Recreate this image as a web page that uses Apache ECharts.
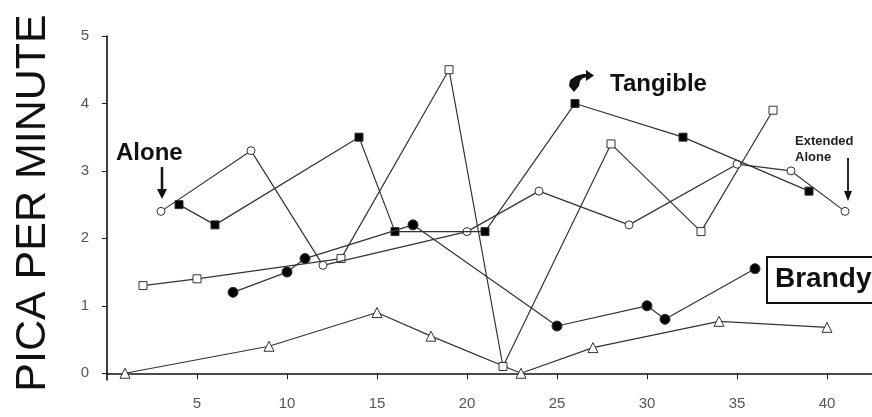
<!DOCTYPE html>
<html><head><meta charset="utf-8">
<script src="https://cdn.jsdelivr.net/npm/echarts@6/dist/echarts.min.js"></script>
<style>html,body{margin:0;padding:0;background:#fff}#c{width:872px;height:417px}</style>
</head><body><div id="c"></div>
<script>
// Tick labels
const xTicks = [5, 10, 15, 20, 25, 30, 35, 40];
const yTicks = [0, 1, 2, 3, 4, 5];

// Alone (open circles)
const aloneX = [3, 8, 12, 20, 24, 29, 35, 38, 41];
const aloneY = [2.4, 3.3, 1.6, 2.1, 2.7, 2.2, 3.1, 3.0, 2.4];
// Tangible (filled squares)
const tangibleX = [4, 6, 14, 16, 21, 26, 32, 39];
const tangibleY = [2.5, 2.2, 3.5, 2.1, 2.1, 4.0, 3.5, 2.7];
// Open squares
const openSqX = [2, 5, 13, 19, 22, 28, 33, 37];
const openSqY = [1.3, 1.4, 1.7, 4.5, 0.1, 3.4, 2.1, 3.9];
// Brandy (filled circles)
const brandyX = [7, 10, 11, 17, 25, 30, 31, 36];
const brandyY = [1.2, 1.5, 1.7, 2.2, 0.7, 1.0, 0.8, 1.55];
// Open triangles
const triX = [1, 9, 15, 18, 23, 27, 34, 40];
const triY = [0, 0.4, 0.9, 0.55, 0, 0.38, 0.77, 0.68];

const FONT = 'Liberation Sans, Arial, Helvetica, sans-serif';
function pts(xs, ys) { return xs.map((x, i) => [x, ys[i]]); }
function mk(name, xs, ys, symbol, size, filled, z) {
  return {
    name, type: 'line', data: pts(xs, ys), symbol, symbolSize: size,
    showSymbol: true, z: z, animation: false,
    lineStyle: { color: '#333', width: 1.2 },
    itemStyle: { color: filled ? '#000' : '#fff', borderColor: '#333', borderWidth: 1 },
    emphasis: { disabled: true }
  };
}

const chart = echarts.init(document.getElementById('c'));
chart.setOption({
  animation: false,
  backgroundColor: '#fff',
  grid: { left: 107, right: 0, top: 36, bottom: 37 },
  xAxis: {
    type: 'value', min: 0, max: 42.5,
    axisLine: { show: true, lineStyle: { color: '#111', width: 1.6 } },
    axisTick: { show: true, customValues: xTicks, length: 6, lineStyle: { color: '#222' } },
    axisLabel: { customValues: xTicks, fontSize: 15, color: '#555', fontFamily: FONT, margin: 16 },
    splitLine: { show: false }
  },
  yAxis: {
    type: 'value', min: -0.1, max: 5,
    axisLine: { show: true, lineStyle: { color: '#111', width: 1.6 } },
    axisTick: { show: true, customValues: yTicks, length: 5, lineStyle: { color: '#222' } },
    axisLabel: { customValues: yTicks, fontSize: 15, color: '#555', fontFamily: FONT, margin: 18 },
    splitLine: { show: false }
  },
  series: [
    mk('Triangles', triX, triY, 'triangle', 10, false, 2),
    mk('Open squares', openSqX, openSqY, 'rect', 8, false, 3),
    mk('Alone', aloneX, aloneY, 'circle', 8, false, 4),
    mk('Tangible', tangibleX, tangibleY, 'rect', 8, true, 5),
    mk('Brandy', brandyX, brandyY, 'circle', 10, true, 6)
  ],
  graphic: [
    { type: 'text', x: 33, y: 203, rotation: Math.PI / 2,
      style: { text: 'PICA PER MINUTE', font: '43px ' + FONT, fill: '#111', align: 'center', verticalAlign: 'middle' } },
    { type: 'text', x: 116, y: 153,
      style: { text: 'Alone', font: 'bold 24px ' + FONT, fill: '#111', align: 'left', verticalAlign: 'middle' } },
    { type: 'line', shape: { x1: 162, y1: 167, x2: 162, y2: 191 }, style: { stroke: '#111', lineWidth: 2.5 } },
    { type: 'polygon', shape: { points: [[157, 189], [167, 189], [162, 199]] }, style: { fill: '#111' } },
    { type: 'text', x: 610, y: 84,
      style: { text: 'Tangible', font: 'bold 24px ' + FONT, fill: '#111', align: 'left', verticalAlign: 'middle' } },
    { type: 'polygon', shape: { points: [[574, 92], [569, 86], [570, 80], [576, 76], [583, 74], [589, 74], [589, 77], [583, 78], [580, 81], [579, 86]] },
      style: { fill: '#111' } },
    { type: 'polygon', shape: { points: [[586, 70], [594, 75.5], [586, 81]] }, style: { fill: '#111' } },
    { type: 'text', x: 795, y: 141,
      style: { text: 'Extended', font: 'bold 13px ' + FONT, fill: '#222', align: 'left', verticalAlign: 'middle' } },
    { type: 'text', x: 795, y: 157,
      style: { text: 'Alone', font: 'bold 13px ' + FONT, fill: '#222', align: 'left', verticalAlign: 'middle' } },
    { type: 'line', shape: { x1: 848, y1: 158, x2: 848, y2: 193 }, style: { stroke: '#111', lineWidth: 1.8 } },
    { type: 'polygon', shape: { points: [[844, 191], [852, 191], [848, 201]] }, style: { fill: '#111' } },
    { type: 'rect', shape: { x: 767, y: 257, width: 115, height: 46 }, style: { fill: '#fff', stroke: '#111', lineWidth: 2 } },
    { type: 'text', x: 775, y: 279,
      style: { text: 'Brandy', font: 'bold 28px ' + FONT, fill: '#111', align: 'left', verticalAlign: 'middle' } }
  ]
});
</script>
</body></html>
